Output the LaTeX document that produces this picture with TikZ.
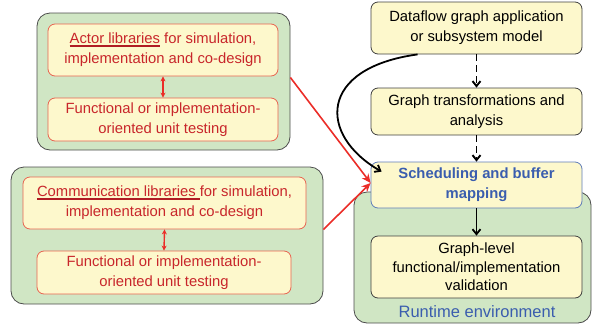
\documentclass[tikz,border=0pt]{standalone}
\usepackage{fontspec}
\setmainfont{Liberation Sans}
\usetikzlibrary{arrows.meta}
\definecolor{grn}{RGB}{208,230,196}
\definecolor{yel}{RGB}{253,248,204}
\definecolor{rtxt}{RGB}{200,38,43}
\definecolor{uline}{RGB}{176,28,36}
\definecolor{rbrd}{RGB}{232,100,80}
\definecolor{rarr}{RGB}{235,45,40}
\definecolor{btxt}{RGB}{58,93,174}
\definecolor{bbrd}{RGB}{95,125,185}
\tikzset{
  grnbox/.style={draw=black!70, fill=grn, rounded corners=13pt, line width=0.8pt, inner sep=0pt},
  redbox/.style={draw=rbrd, fill=yel, rounded corners=7pt, line width=0.8pt, text=rtxt, align=center, inner sep=0pt, font=\fontsize{14.8}{20}\selectfont},
  blkbox/.style={draw=black!75, fill=yel, rounded corners=7pt, line width=0.8pt, text=black, align=center, inner sep=0pt, font=\fontsize{14.8}{20}\selectfont},
  redarr/.style={draw=rarr, line width=1.6pt, -{Stealth[length=9pt,width=8pt]}},
  dblarr/.style={draw=rarr, line width=1.4pt, {Stealth[length=5pt,width=5pt]}-{Stealth[length=5pt,width=5pt]}},
  blkarr/.style={draw=black, line width=1.8pt, -{Straight Barb[length=5pt,width=8pt]}},
  dsharr/.style={draw=black, line width=1.9pt, dash pattern=on 7pt off 4pt, -{Straight Barb[length=5pt,width=8pt]}},
}
\newsavebox\ulbox
\newcommand{\ulred}[1]{\sbox\ulbox{#1}\rlap{\textcolor{uline}{\rule[-3pt]{\wd\ulbox}{1.4pt}}}\usebox\ulbox}
\begin{document}
\begin{tikzpicture}[x=1pt,y=-1pt]
\useasboundingbox (0,0) rectangle (592,325);
% left groups
\node[grnbox, minimum width=253pt, minimum height=137pt] (Ag) at (163.5,81.5) {};
\node[redbox, minimum width=230pt, minimum height=52pt] (A1) at (163,50) {\ulred{Actor libraries} for simulation,\\implementation and co-design};
\node[redbox, minimum width=230pt, minimum height=43pt] (A2) at (163,119.5) {Functional or implementation-\\oriented unit testing};
\draw[dblarr] (A1.south) -- (A2.north);

\node[grnbox, minimum width=312pt, minimum height=137pt] (Cg) at (167,235.5) {};
\node[redbox, minimum width=283pt, minimum height=52pt] (C1) at (164.5,203) {\ulred{Communication libraries\ }for simulation,\\implementation and co-design};
\node[redbox, minimum width=254pt, minimum height=43pt] (C2) at (164,272.5) {Functional or implementation-\\oriented unit testing};
\draw[dblarr] (C1.south) -- (C2.north);

% right column
\node[grnbox, minimum width=237pt, minimum height=131pt] (R) at (472.5,257.5) {};
\node[text=btxt, font=\fontsize{16.5}{18}\selectfont] (Rl) at (477,312) {Runtime environment};
\node[blkbox, minimum width=211pt, minimum height=52pt] (D1) at (476.5,28) {Dataflow graph application\\or subsystem model};
\node[blkbox, minimum width=211pt, minimum height=47pt] (D2) at (476.5,111.5) {Graph transformations and\\analysis};
\node[blkbox, draw=bbrd, text=btxt, minimum width=211pt, minimum height=46pt, font=\fontsize{14.8}{20}\selectfont\bfseries] (S) at (476.5,185) {Scheduling and buffer\\mapping};
\node[blkbox, minimum width=211pt, minimum height=62pt, font=\fontsize{14.8}{18.5}\selectfont] (G) at (476.5,267) {Graph-level\\functional/implementation\\validation};

\draw[dsharr] (D1.south) -- (D2.north);
\draw[dsharr] (D2.south) -- (S.north);
\draw[blkarr] (S.south) -- (G.north);
\draw[blkarr] ([xshift=47pt]D1.south west) .. controls (318,68) and (318,135) .. ([xshift=11pt,yshift=-10pt]S.north west);

\draw[redarr] ([yshift=4pt]Ag.east) -- ([yshift=2pt]S.west);
\draw[redarr] ([yshift=6pt]Cg.east) -- ([yshift=2pt]S.west);
\end{tikzpicture}
\end{document}
